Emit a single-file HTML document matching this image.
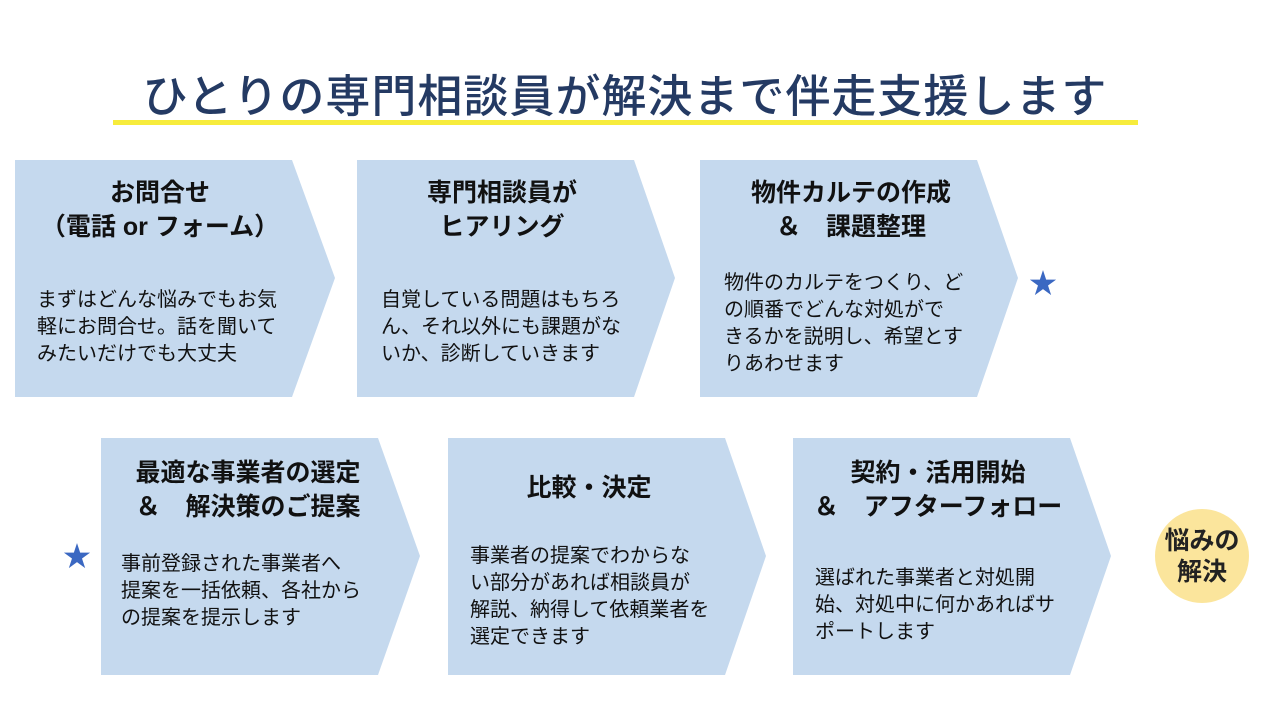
<!DOCTYPE html>
<html><head><meta charset="utf-8"><style>
body{margin:0;width:1280px;height:720px;background:#fff;position:relative;overflow:hidden;font-family:"Liberation Sans","Noto Sans CJK JP",sans-serif;}
.t{position:absolute;left:0;width:1250px;top:60px;text-align:center;font-size:45px;font-weight:500;color:#243a63;letter-spacing:1px;white-space:nowrap;}
.ul{position:absolute;left:113px;top:120px;width:1025px;height:5px;background:#f7ec3c;}
.b{position:absolute;width:320px;height:237px;}
.b svg{position:absolute;left:0;top:0;}
.h{position:absolute;left:0;width:290px;text-align:center;font-size:25px;font-weight:bold;line-height:34px;color:#111;white-space:nowrap;}
.p{position:absolute;left:22px;width:300px;font-size:20px;line-height:27px;color:#111;white-space:nowrap;}
.star{position:absolute;color:#3b68c2;font-size:28px;}
.c{position:absolute;left:1155px;top:509px;width:94px;height:94px;border-radius:50%;background:#fbe59c;text-align:center;font-size:25px;font-weight:bold;line-height:31px;color:#222;box-sizing:border-box;padding-top:17px;}
</style></head><body>
<div class="t">ひとりの専門相談員が解決まで伴走支援します</div>
<div class="ul"></div>

<div class="b" style="left:15px;top:160px"><svg width="320" height="237"><polygon points="0,0 277,0 320,118 277,237 0,237" fill="#c5d9ee"/></svg>
<div class="h" style="top:16px">お問合せ<br>（電話 or フォーム）</div>
<div class="p" style="top:127px;left:22px">まずはどんな悩みでもお気<br>軽にお問合せ。話を聞いて<br>みたいだけでも大丈夫</div></div>

<div class="b" style="left:357px;top:160px"><svg width="320" height="237"><polygon points="0,0 277,0 318,118 277,237 0,237" fill="#c5d9ee"/></svg>
<div class="h" style="top:16px">専門相談員が<br>ヒアリング</div>
<div class="p" style="top:127px;left:24px">自覚している問題はもちろ<br>ん、それ以外にも課題がな<br>いか、診断していきます</div></div>

<div class="b" style="left:700px;top:160px"><svg width="320" height="237"><polygon points="0,0 277,0 318,118 277,237 0,237" fill="#c5d9ee"/></svg>
<div class="h" style="top:16px;left:6px">物件カルテの作成<br>＆　課題整理</div>
<div class="p" style="top:110px;left:24px">物件のカルテをつくり、ど<br>の順番でどんな対処がで<br>きるかを説明し、希望とす<br>りあわせます</div></div>
<div class="star" style="left:1029px;top:262px">★</div>

<div class="star" style="left:63px;top:535px">★</div>
<div class="b" style="left:101px;top:438px"><svg width="320" height="237"><polygon points="0,0 277,0 319,118 277,237 0,237" fill="#c5d9ee"/></svg>
<div class="h" style="top:18px;left:2px">最適な事業者の選定<br>＆　解決策のご提案</div>
<div class="p" style="top:113px;left:20px">事前登録された事業者へ<br>提案を一括依頼、各社から<br>の提案を提示します</div></div>

<div class="b" style="left:448px;top:438px"><svg width="320" height="237"><polygon points="0,0 277,0 318,118 277,237 0,237" fill="#c5d9ee"/></svg>
<div class="h" style="top:33px;left:-4px">比較・決定</div>
<div class="p" style="top:105px;left:22px">事業者の提案でわからな<br>い部分があれば相談員が<br>解説、納得して依頼業者を<br>選定できます</div></div>

<div class="b" style="left:793px;top:438px"><svg width="320" height="237"><polygon points="0,0 277,0 318,118 277,237 0,237" fill="#c5d9ee"/></svg>
<div class="h" style="top:18px">契約・活用開始<br>＆　アフターフォロー</div>
<div class="p" style="top:127px;left:22px">選ばれた事業者と対処開<br>始、対処中に何かあればサ<br>ポートします</div></div>

<div class="c">悩みの<br>解決</div>
</body></html>
